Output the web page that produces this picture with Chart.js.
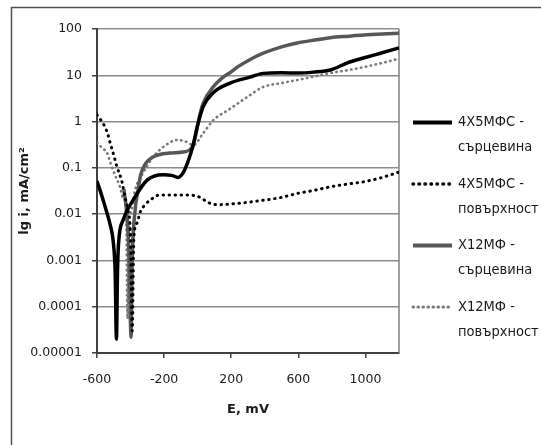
<!DOCTYPE html>
<html>
<head>
<meta charset="utf-8">
<script src="https://cdn.jsdelivr.net/npm/chart.js@4.4.1/dist/chart.umd.min.js"></script>
<style>
  html, body { margin: 0; padding: 0; background: #fff; }
</style>
</head>
<body>
<canvas id="polChart" width="541" height="445"></canvas>
<script>
// E, mV and current density i, mA/cm2
const eCoreA = [-600, -570, -545, -522, -508, -498, -492, -484, -478, -472, -445, -385, -300, -206, -150, -118, -87, -60, -30, -3, 33, 93, 194, 313, 391, 500, 594, 690, 791, 893, 988, 1090, 1200];
const iCoreA = [0.052, 0.024, 0.012, 0.006, 0.0035, 0.0016, 0.0006, 0.00002, 0.0005, 0.0022, 0.0074, 0.020, 0.055, 0.071, 0.068, 0.062, 0.078, 0.13, 0.28, 0.76, 2.1, 4.2, 6.8, 9.1, 11.0, 11.3, 11.2, 11.7, 13, 18.6, 23.6, 30, 39];

const eSurfA = [-600, -552, -534, -522, -504, -481, -451, -433, -415, -400, -390, -380, -361, -343, -313, -284, -224, -164, -63, 15, 60, 116, 236, 391, 500, 594, 700, 791, 900, 988, 1100, 1200];
const iSurfA = [1.4, 0.76, 0.51, 0.35, 0.21, 0.105, 0.050, 0.023, 0.012, 0.003, 0.00003, 0.0032, 0.0065, 0.011, 0.016, 0.020, 0.026, 0.026, 0.026, 0.023, 0.018, 0.016, 0.017, 0.020, 0.023, 0.028, 0.033, 0.039, 0.045, 0.050, 0.062, 0.081];

const eCoreB = [-440, -420, -408, -397, -390, -373, -355, -340, -313, -270, -164, -87, -33, -15, 0, 15, 33, 93, 152, 194, 236, 313, 391, 500, 594, 700, 791, 900, 988, 1100, 1200];
const iCoreB = [0.035, 0.008, 0.001, 0.000022, 0.001, 0.012, 0.033, 0.07, 0.12, 0.17, 0.21, 0.22, 0.28, 0.45, 0.85, 1.5, 2.5, 5.6, 9.1, 11.5, 15, 22, 30, 41, 50, 58, 65, 70, 74, 78, 81];

const eSurfB = [-600, -570, -540, -522, -493, -463, -445, -427, -418, -410, -395, -373, -325, -266, -206, -122, -63, -27, 33, 93, 194, 296, 391, 500, 594, 700, 791, 900, 988, 1100, 1200];
const iSurfB = [0.35, 0.27, 0.21, 0.135, 0.071, 0.039, 0.023, 0.0145, 0.000055, 0.004, 0.012, 0.033, 0.078, 0.17, 0.28, 0.40, 0.36, 0.31, 0.56, 1.07, 1.9, 3.4, 5.6, 6.8, 7.9, 9.5, 11.2, 13, 15, 18.5, 23];

const seriesLabels = ['4Х5МФС - сърцевина', '4Х5МФС - повърхност', 'Х12МФ - сърцевина', 'Х12МФ - повърхност'];
const xTicks = [-600, -200, 200, 600, 1000];
const yTicks = [0.00001, 0.0001, 0.001, 0.01, 0.1, 1, 10, 100];

function toPoints(es, is) {
  return es.map((e, k) => ({x: e, y: is[k]}));
}

const tickFont = {family: 'DejaVu Sans', size: 12.5};
const titleFont = {family: 'DejaVu Sans', size: 13, weight: 'bold'};

// white page, outer chart frame and right edge of plot area
const frames = {
  id: 'frames',
  beforeDraw(chart) {
    const ctx = chart.ctx;
    ctx.save();
    ctx.fillStyle = '#fff';
    ctx.fillRect(0, 0, chart.width, chart.height);
    ctx.strokeStyle = '#505050';
    ctx.lineWidth = 1.5;
    ctx.beginPath();
    ctx.moveTo(11.5, chart.height);
    ctx.lineTo(11.5, 7.5);
    ctx.lineTo(chart.width, 7.5);
    ctx.stroke();
    ctx.restore();
  },
  beforeDatasetsDraw(chart) {
    const a = chart.chartArea;
    const ctx = chart.ctx;
    ctx.save();
    ctx.strokeStyle = '#808080';
    ctx.lineWidth = 1.5;
    ctx.beginPath();
    ctx.moveTo(a.right, a.top);
    ctx.lineTo(a.right, a.bottom);
    ctx.stroke();
    ctx.restore();
  }
};

// legend on the right, labels on two lines
const sideLegend = {
  id: 'sideLegend',
  afterDraw(chart) {
    const ctx = chart.ctx;
    ctx.save();
    chart.data.datasets.forEach((ds, k) => {
      const y = 122.5 + k * 61.5;
      ctx.beginPath();
      ctx.strokeStyle = ds.borderColor;
      ctx.lineWidth = ds.borderWidth + 0.5;
      ctx.lineCap = ds.borderDash.length ? 'round' : 'butt';
      ctx.setLineDash(ds.borderDash);
      ctx.moveTo(413, y);
      ctx.lineTo(452, y);
      ctx.stroke();
      ctx.setLineDash([]);
      const parts = ds.label.split(' - ');
      ctx.fillStyle = '#1a1a1a';
      ctx.font = '14.5px "Liberation Sans Narrow", "DejaVu Sans Condensed", "DejaVu Sans", sans-serif';
      ctx.textBaseline = 'middle';
      ctx.textAlign = 'left';
      ctx.fillText(parts[0] + ' -', 458, y);
      ctx.fillText(parts[1], 458, y + 25);
    });
    ctx.restore();
  }
};

function line(label, pts, color, width, dash) {
  return {
    label: label,
    data: pts,
    borderColor: color,
    backgroundColor: color,
    borderWidth: width,
    borderDash: dash,
    borderCapStyle: dash.length ? 'round' : 'butt',
    borderJoinStyle: 'round',
    pointRadius: 0,
    fill: false,
    cubicInterpolationMode: 'monotone'
  };
}

const data = {
  datasets: [
    line(seriesLabels[0], toPoints(eCoreA, iCoreA), '#000000', 3.5, []),
    line(seriesLabels[1], toPoints(eSurfA, iSurfA), '#000000', 3, [0.5, 5.5]),
    line(seriesLabels[2], toPoints(eCoreB, iCoreB), '#575757', 3.5, []),
    line(seriesLabels[3], toPoints(eSurfB, iSurfB), '#7a7a7a', 2.6, [0.5, 4.5])
  ]
};

const config = {
  type: 'line',
  data,
  options: {
    responsive: false,
    animation: false,
    layout: {padding: {top: 29, right: 142, left: 0, bottom: 0}},
    plugins: {legend: {display: false}, tooltip: {enabled: false}},
    scales: {
      x: {
        type: 'linear',
        min: -600,
        max: 1200,
        afterFit: s => { s.height = 92; },
        afterBuildTicks: s => { s.ticks = xTicks.map(v => ({value: v})); },
        grid: {drawOnChartArea: false, tickLength: 5, color: '#404040', lineWidth: 1.5},
        border: {color: '#404040', width: 2},
        ticks: {padding: 14, color: '#1a1a1a', font: tickFont, maxRotation: 0, autoSkip: false, callback: v => String(v)},
        title: {display: true, text: 'E, mV', color: '#1a1a1a', font: titleFont, padding: {top: 0, bottom: 28}}
      },
      y: {
        type: 'logarithmic',
        min: 0.00001,
        max: 100,
        afterFit: s => { s.width = 97; },
        afterBuildTicks: s => { s.ticks = yTicks.map(v => ({value: v})); },
        grid: {color: '#8c8c8c', lineWidth: 1.5, tickLength: 5, tickColor: '#404040'},
        border: {color: '#404040', width: 2},
        ticks: {padding: 10, color: '#1a1a1a', font: tickFont, autoSkip: false, callback: v => String(v)},
        title: {display: true, text: 'lg i, mA/cm²', color: '#1a1a1a', font: titleFont, padding: {top: 17, bottom: 0}}
      }
    }
  },
  plugins: [frames, sideLegend]
};

const polChart = new Chart(document.getElementById('polChart'), config);
</script>
</body>
</html>
